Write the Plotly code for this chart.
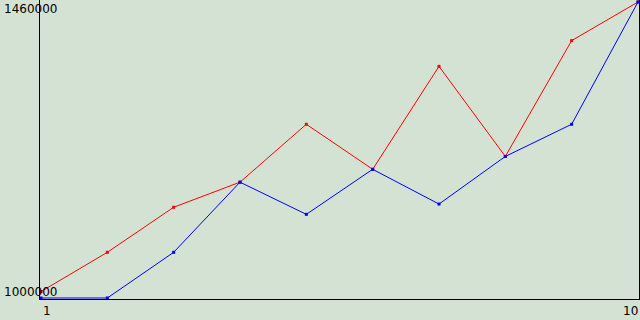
import plotly.graph_objects as go

x_vals = [1, 2, 3, 4, 5, 6, 7, 8, 9, 10]
red_vals = [1010000, 1071000, 1141000, 1180000, 1270000, 1200000, 1360000, 1220000, 1400000, 1460000]
blue_vals = [1000000, 1000000, 1071000, 1180000, 1130000, 1200000, 1146000, 1220000, 1270000, 1460000]
y_tick_vals = [1000000, 1460000]
y_tick_text = ["1000000", "1460000"]
x_tick_vals = [1, 10]
x_tick_text = ["1", "10"]

bg = "#d4e2d4"
fig = go.Figure()
fig.add_trace(go.Scatter(x=x_vals, y=red_vals, mode="lines+markers",
                         line=dict(color="#ff0000", width=1),
                         marker=dict(color="#ff0000", size=3, symbol="square"),
                         hoverinfo="skip"))
fig.add_trace(go.Scatter(x=x_vals, y=blue_vals, mode="lines+markers",
                         line=dict(color="#0000ff", width=1),
                         marker=dict(color="#0000ff", size=3, symbol="square"),
                         hoverinfo="skip"))

px_x = 9 / 597.0
px_y = 460000 / 296.0
fig.update_xaxes(range=[1 - px_x, 10 + px_x], showgrid=False, zeroline=False,
                 showticklabels=False, ticks="", showline=True, linecolor="black",
                 linewidth=1, mirror=True)
fig.update_yaxes(range=[1000000 - px_y, 1460000 + 2 * px_y], showgrid=False, zeroline=False,
                 showticklabels=False, ticks="", showline=True, linecolor="black",
                 linewidth=1, mirror=True)

font = dict(family="DejaVu Sans", size=12, color="black")
anns = []
for v, t in zip(y_tick_vals, y_tick_text):
    top = v == max(y_tick_vals)
    anns.append(dict(xref="paper", yref="y", x=0, y=v, text=t, showarrow=False,
                     xanchor="left", yanchor="top" if top else "bottom",
                     xshift=-37, yshift=1 if top else -2, font=font, borderpad=0))
for v, t in zip(x_tick_vals, x_tick_text):
    first = v == min(x_tick_vals)
    anns.append(dict(xref="x", yref="paper", x=v, y=0, text=t, showarrow=False,
                     xanchor="center" if first else "right",
                     yanchor="top", xshift=6 if first else 1, yshift=-4,
                     font=font, borderpad=0))

fig.update_layout(width=640, height=320, margin=dict(l=40, r=1, t=0, b=21),
                  paper_bgcolor=bg, plot_bgcolor=bg, showlegend=False,
                  annotations=anns)
fig.write_html("out.html")
